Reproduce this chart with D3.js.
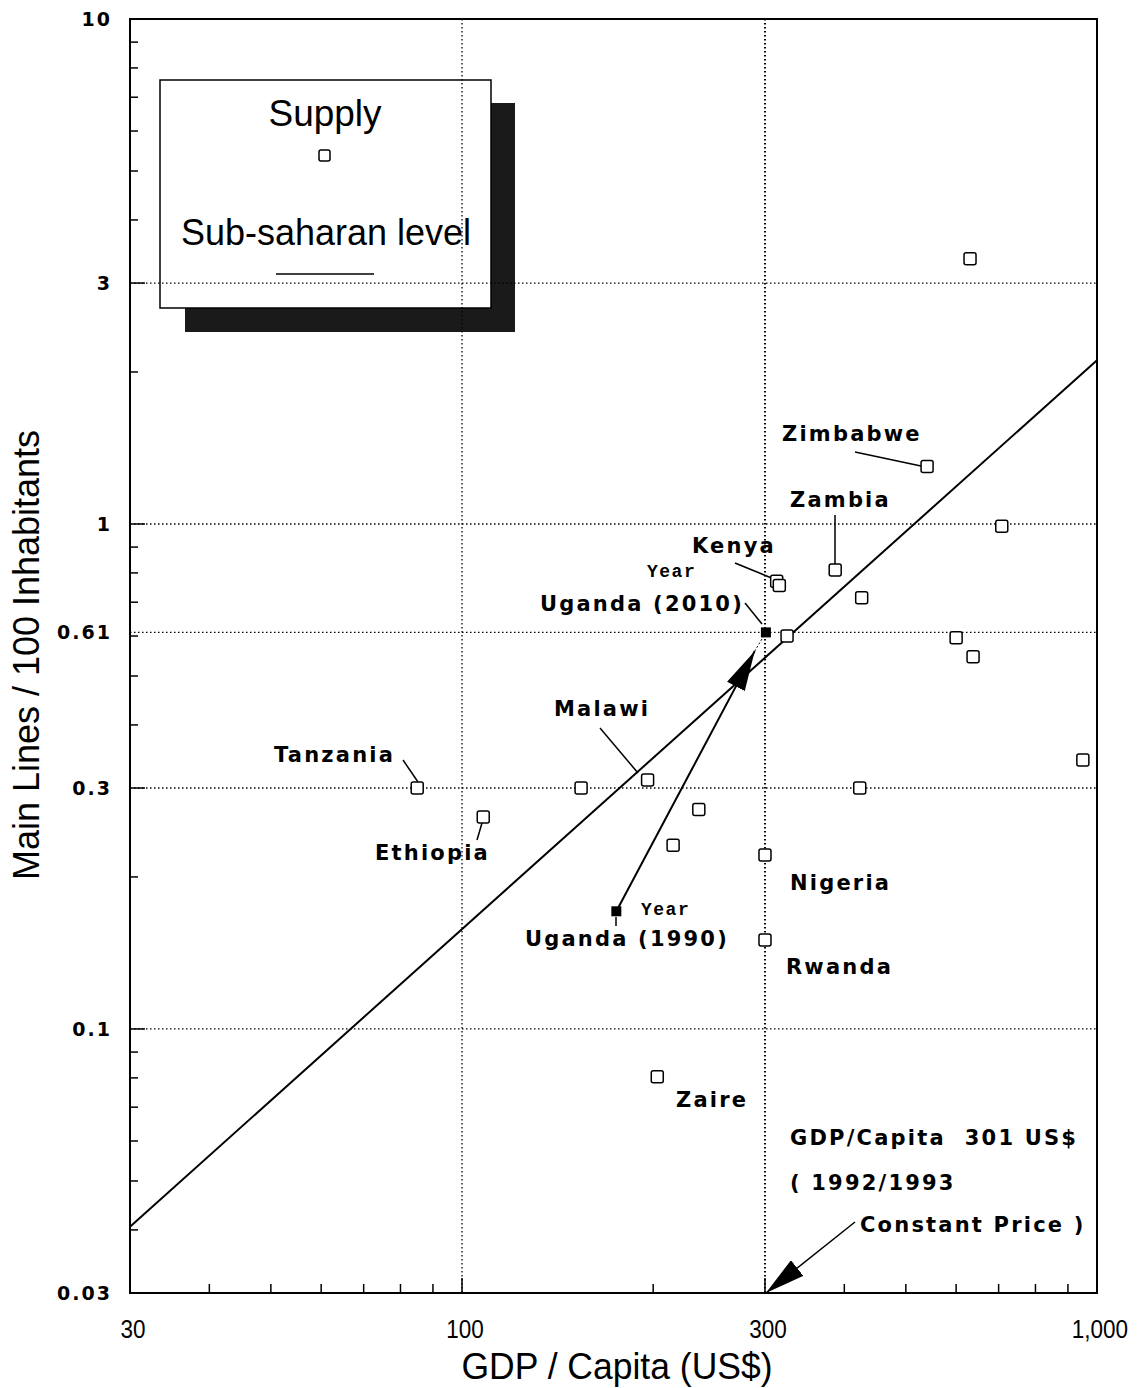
<!DOCTYPE html>
<html>
<head>
<meta charset="utf-8">
<script src="https://cdn.jsdelivr.net/npm/d3@7"></script>
<style>
  body { margin: 0; background: #fff; }
  svg { display: block; }
</style>
</head>
<body>
<div id="container"></div>
<script>
let w = 1139;
let h = 1388;

// data
let supplyGdp   = [85, 108, 154, 196, 236, 215, 300, 300, 203, 325, 313, 316, 387, 426, 540, 708, 600, 638, 423, 950, 631];
let supplyLines = [0.30, 0.263, 0.30, 0.311, 0.272, 0.231, 0.221, 0.150, 0.0804, 0.60, 0.77, 0.755, 0.811, 0.714, 1.30, 0.99, 0.595, 0.546, 0.30, 0.341, 3.35];

let ugandaYears = ["1990", "2010"];
let ugandaGdp   = [175, 301];
let ugandaLines = [0.171, 0.61];

let levelGdp   = [30, 1000];
let levelLines = [0.0406, 2.11];

let xTicks = [30, 100, 300, 1000];
let xTickLabels = ["30", "100", "300", "1,000"];
let xMinor = [40, 50, 60, 70, 80, 90, 200, 400, 500, 600, 700, 800, 900];
let yTicks = [0.03, 0.1, 0.3, 0.61, 1, 3, 10];
let yTickLabels = ["0.03", "0.1", "0.3", "0.61", "1", "3", "10"];
let yMinor = [0.04, 0.05, 0.06, 0.07, 0.08, 0.09, 0.2, 0.4, 0.5, 0.6, 0.7, 0.8, 0.9, 2, 4, 5, 6, 7, 8, 9];
let xGrid = [100, 300];
let yGrid = [0.1, 0.3, 0.61, 1, 3];

let viz = d3.select("#container")
  .append("svg")
    .attr("width", w)
    .attr("height", h)
;

let xScale = d3.scaleLog().domain([30, 1000]).range([130, 1097]);
let yScale = d3.scaleLog().domain([0.03, 10]).range([1293, 19]);

let defs = viz.append("defs");
defs.append("marker")
    .attr("id", "headA")
    .attr("viewBox", "0 0 40 20")
    .attr("refX", 40).attr("refY", 10)
    .attr("markerWidth", 40).attr("markerHeight", 20)
    .attr("markerUnits", "userSpaceOnUse")
    .attr("orient", "auto")
  .append("path")
    .attr("d", "M0,0 L40,10 L0,20 Z")
    .attr("fill", "#000");

// legend box with shadow
viz.append("rect").attr("x", 185).attr("y", 103).attr("width", 330).attr("height", 229).attr("fill", "#1a1a1a");
viz.append("rect").attr("x", 160).attr("y", 80).attr("width", 331).attr("height", 228)
  .attr("fill", "#fff").attr("stroke", "#000").attr("stroke-width", 1.5);

// grid
let gridGroup = viz.append("g").attr("class", "grid");
gridGroup.selectAll(".gx").data(xGrid).enter().append("line")
  .attr("x1", d => xScale(d)).attr("x2", d => xScale(d))
  .attr("y1", 19).attr("y2", 1293)
  .attr("stroke", "#000").attr("stroke-width", d => d == 300 ? 2 : 1.3)
  .attr("stroke-dasharray", "1.5,2.5");
gridGroup.selectAll(".gy").data(yGrid).enter().append("line")
  .attr("y1", d => yScale(d)).attr("y2", d => yScale(d))
  .attr("x1", 130).attr("x2", 1097)
  .attr("stroke", "#000").attr("stroke-width", 1.3)
  .attr("stroke-dasharray", "1.5,2.5");

// frame
viz.append("rect").attr("x", 130).attr("y", 19).attr("width", 967).attr("height", 1274)
  .attr("fill", "none").attr("stroke", "#000").attr("stroke-width", 2);

// ticks (inside)
let tickGroup = viz.append("g").attr("class", "ticks").attr("stroke", "#000").attr("stroke-width", 1.5);
tickGroup.selectAll(".xt").data(xMinor.concat([100, 300])).enter().append("line")
  .attr("x1", d => xScale(d)).attr("x2", d => xScale(d))
  .attr("y1", 1293).attr("y2", d => (d == 100 || d == 300) ? 1278 : 1284);
tickGroup.selectAll(".yt").data(yMinor.concat([0.1, 0.3, 1, 3])).enter().append("line")
  .attr("y1", d => yScale(d)).attr("y2", d => yScale(d))
  .attr("x1", 130).attr("x2", d => [0.1, 0.3, 1, 3].includes(d) ? 145 : 138);

// tick labels
viz.selectAll(".xl").data(xTicks).enter().append("text")
  .attr("x", d => xScale(d) + 3).attr("y", 1338)
  .attr("text-anchor", "middle")
  .attr("font-family", "Liberation Sans, sans-serif")
  .attr("font-size", 25)
  .attr("transform", d => "translate(" + (xScale(d) + 3) * 0.1 + ",0) scale(0.9,1)")
  .text((d, i) => xTickLabels[i]);
viz.selectAll(".yl").data(yTicks).enter().append("text")
  .attr("x", 112).attr("y", d => yScale(d) + 7)
  .attr("text-anchor", "end")
  .attr("font-family", "DejaVu Sans, sans-serif")
  .attr("font-weight", "bold")
  .attr("font-size", 19)
  .attr("letter-spacing", 2)
  .text((d, i) => yTickLabels[i]);

// axis titles
viz.append("text").attr("x", 617).attr("y", 1379).attr("text-anchor", "middle")
  .attr("font-family", "Liberation Sans, sans-serif").attr("font-size", 37)
  .attr("textLength", 311).attr("lengthAdjust", "spacingAndGlyphs")
  .text("GDP / Capita (US$)");
viz.append("text").attr("transform", "translate(39,655) rotate(-90)").attr("text-anchor", "middle")
  .attr("font-family", "Liberation Sans, sans-serif").attr("font-size", 37)
  .attr("textLength", 450).attr("lengthAdjust", "spacingAndGlyphs")
  .text("Main Lines / 100 Inhabitants");

// legend content
viz.append("text").attr("x", 325).attr("y", 126).attr("text-anchor", "middle")
  .attr("font-family", "Liberation Sans, sans-serif").attr("font-size", 36)
  .attr("textLength", 113).attr("lengthAdjust", "spacingAndGlyphs").text("Supply");
viz.append("rect").attr("x", 319).attr("y", 150).attr("width", 11).attr("height", 11).attr("rx", 2)
  .attr("fill", "#fff").attr("stroke", "#000").attr("stroke-width", 1.5);
viz.append("text").attr("x", 326).attr("y", 245).attr("text-anchor", "middle")
  .attr("font-family", "Liberation Sans, sans-serif").attr("font-size", 36)
  .attr("textLength", 290).attr("lengthAdjust", "spacingAndGlyphs").text("Sub-saharan level");
viz.append("line").attr("x1", 276).attr("x2", 374).attr("y1", 274).attr("y2", 274)
  .attr("stroke", "#000").attr("stroke-width", 1.5);

// sub-saharan level line
let line = d3.line().x((d, i) => xScale(d)).y((d, i) => yScale(levelLines[i]));
viz.append("path").attr("d", line(levelGdp)).attr("fill", "none").attr("stroke", "#000").attr("stroke-width", 2);

// leader lines
let leaders = [
  [403, 760, 418, 782], [477, 840, 482, 823], [600, 728, 638, 773], [735, 563, 774, 579],
  [745, 603, 762, 624], [835, 515, 835, 564], [855, 452, 921, 466], [616, 917, 616, 926]
];
viz.selectAll(".leader").data(leaders).enter().append("line")
  .attr("x1", d => d[0]).attr("y1", d => d[1]).attr("x2", d => d[2]).attr("y2", d => d[3])
  .attr("stroke", "#000").attr("stroke-width", 1.5);

// Uganda arrow
viz.append("line")
  .attr("x1", xScale(ugandaGdp[0])).attr("y1", yScale(ugandaLines[0]))
  .attr("x2", xScale(289)).attr("y2", yScale(0.56))
  .attr("stroke", "#000").attr("stroke-width", 2).attr("marker-end", "url(#headA)");
viz.append("line")
  .attr("x1", xScale(289)).attr("y1", yScale(0.56))
  .attr("x2", xScale(ugandaGdp[1])).attr("y2", yScale(ugandaLines[1]))
  .attr("stroke", "#000").attr("stroke-width", 1).attr("stroke-dasharray", "2,2");

// constant price arrow
viz.append("line")
  .attr("x1", 855).attr("y1", 1222)
  .attr("x2", xScale(301)).attr("y2", yScale(0.03))
  .attr("stroke", "#000").attr("stroke-width", 1.5).attr("marker-end", "url(#headA)");

// supply points
viz.selectAll(".pt").data(supplyGdp).enter().append("rect")
  .attr("x", d => xScale(d) - 6).attr("y", (d, i) => yScale(supplyLines[i]) - 6)
  .attr("width", 12).attr("height", 12).attr("rx", 2)
  .attr("fill", "#fff").attr("stroke", "#000").attr("stroke-width", 1.5);

// Uganda points
viz.selectAll(".ug").data(ugandaGdp).enter().append("rect")
  .attr("x", d => xScale(d) - 5).attr("y", (d, i) => yScale(ugandaLines[i]) - 5)
  .attr("width", 10).attr("height", 10)
  .attr("fill", "#000");

// labels
let labels = [
  ["Zimbabwe", 782, 441], ["Zambia", 790, 507], ["Kenya", 692, 553],
  ["Uganda (2010)", 540, 611], ["Malawi", 554, 716], ["Tanzania", 274, 762],
  ["Ethiopia", 375, 860], ["Nigeria", 790, 890], ["Uganda (1990)", 525, 946],
  ["Rwanda", 786, 974], ["Zaire", 676, 1107],
  ["GDP/Capita  301 US$", 790, 1145], ["( 1992/1993", 790, 1190], ["Constant Price )", 860, 1232]
];
viz.selectAll(".lab").data(labels).enter().append("text")
  .attr("x", d => d[1]).attr("y", d => d[2])
  .attr("font-family", "DejaVu Sans, sans-serif")
  .attr("font-weight", "bold")
  .attr("font-size", 21)
  .attr("letter-spacing", 2.2)
  .attr("xml:space", "preserve")
  .style("white-space", "pre")
  .text(d => d[0]);

let yearLabels = [["Year", 647, 577], ["Year", 641, 915]];
viz.selectAll(".yr").data(yearLabels).enter().append("text")
  .attr("x", d => d[1]).attr("y", d => d[2])
  .attr("font-family", "Liberation Mono, monospace")
  .attr("font-weight", "bold")
  .attr("font-size", 18)
  .attr("letter-spacing", 1.5)
  .text(d => d[0]);
</script>
</body>
</html>
